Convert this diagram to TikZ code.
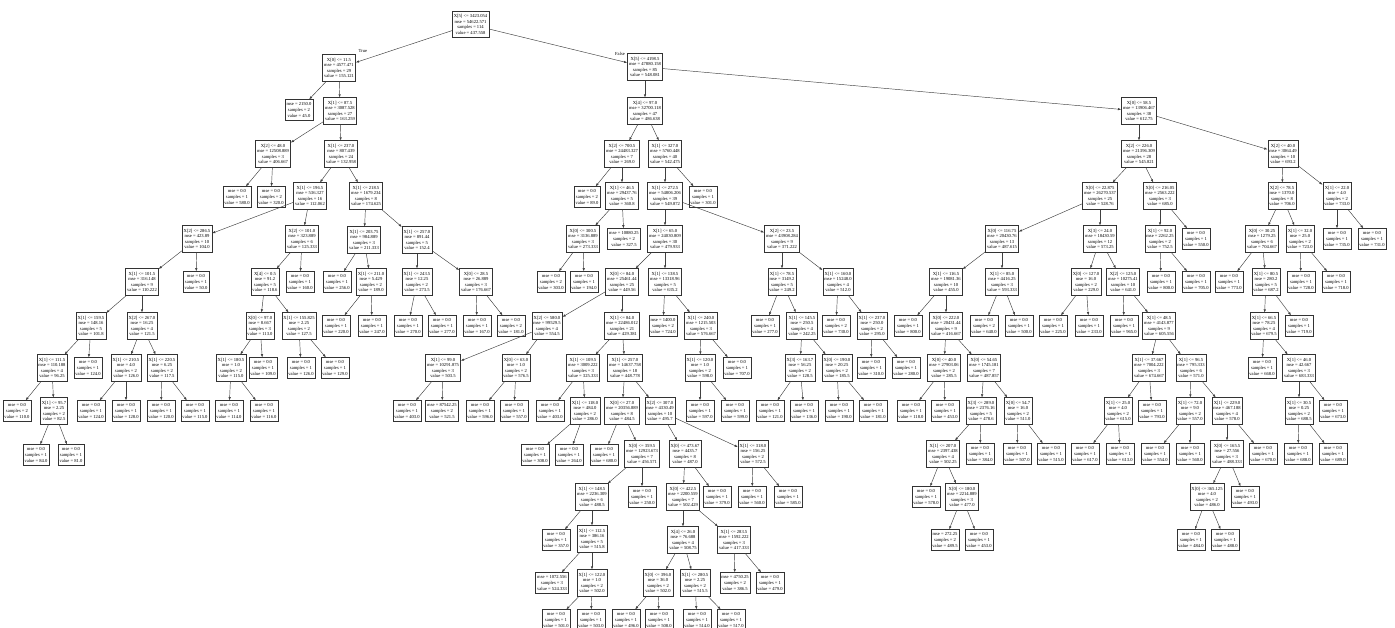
\documentclass[tikz,border=0pt]{standalone}
\usepackage{fontspec}
\setmainfont{Liberation Serif}
\usetikzlibrary{arrows.meta}
\tikzset{
  box/.style={draw=black!80, line width=0.55pt, fill=white, align=center, inner xsep=1.6pt, inner ysep=3.2pt, font=\fontsize{4.6}{5.6}\selectfont, text=black},
  edge/.style={draw=black!75, line width=0.45pt, -{Latex[length=3.2pt,width=2.4pt]}},
  lbl/.style={font=\fontsize{4.6}{5.6}\selectfont, inner sep=0pt},
}
\newcommand\IN[8]{\node[box] (#1) at (#3,#4) {#5\\mse = #6\\samples = #7\\value = #8};\draw[edge] (#2) -- (#1);}
\newcommand\LF[7]{\node[box] (#1) at (#3,#4) {mse = #5\\samples = #6\\value = #7};\draw[edge] (#2) -- (#1);}
\begin{document}
\begin{tikzpicture}[x=1pt,y=-1pt]
\useasboundingbox (0,0) rectangle (1395,628);
\clip (0,0) rectangle (1395,628);
\fill[white] (0,0) rectangle (1395,628);
\node[box] (r) at (470.5,24.5) {X[5] <= 3423.054\\mse = 54622.571\\samples = 114\\value = 437.558};
% left subtree
\IN{a}{r}{339}{68}{X[0] <= 11.5}{4577.471}{29}{155.121}
\LF{a1}{a}{299}{110}{2150.0}{2}{45.0}
\IN{a2}{a}{340}{111}{X[1] <= 87.5}{3087.528}{27}{163.259}
\IN{a21}{a2}{273}{154}{X[2] <= 48.0}{12508.889}{3}{406.667}
\LF{a211}{a21}{237}{197}{0.0}{1}{580.0}
\LF{a212}{a21}{271}{197}{0.0}{2}{320.0}
\IN{a22}{a2}{341}{154}{X[1] <= 237.0}{807.439}{24}{132.958}
\IN{e}{a22}{310}{196}{X[1] <= 196.5}{536.327}{16}{112.062}
\IN{f}{a22}{366}{196}{X[1] <= 218.5}{1679.234}{8}{174.625}
\IN{g}{e}{197}{239}{X[2] <= 286.5}{423.89}{10}{104.0}
\IN{h}{e}{302}{239}{X[2] <= 101.0}{323.889}{6}{125.333}
\IN{g1}{g}{142}{282}{X[1] <= 101.5}{316.148}{9}{110.222}
\LF{g2}{g}{196}{282}{0.0}{1}{50.0}
\IN{g11}{g1}{91}{326}{X[1] <= 159.5}{148.16}{5}{101.8}
\IN{g12}{g1}{142}{326}{X[2] <= 267.0}{16.25}{4}{121.5}
\IN{g111}{g11}{52}{368}{X[1] <= 111.5}{110.188}{4}{96.25}
\LF{g112}{g11}{88}{368}{0.0}{1}{124.0}
\LF{g1111}{g111}{17}{411}{0.0}{2}{110.0}
\IN{g1112}{g111}{54}{411}{X[1] <= 95.7}{2.25}{2}{82.5}
\LF{g11121}{g1112}{36}{455}{0.0}{1}{84.0}
\LF{g11122}{g1112}{71}{455}{0.0}{1}{81.0}
\IN{g121}{g12}{126}{368}{X[1] <= 210.5}{4.0}{2}{126.0}
\IN{g122}{g12}{162}{368}{X[1] <= 220.5}{6.25}{2}{117.5}
\LF{g1211}{g121}{91}{411}{0.0}{1}{124.0}
\LF{g1212}{g121}{126}{411}{0.0}{1}{128.0}
\LF{g1221}{g122}{161}{411}{0.0}{1}{120.0}
\LF{g1222}{g122}{195}{411}{0.0}{1}{115.0}
\IN{h1}{h}{265}{282}{X[4] <= 0.5}{91.2}{5}{118.6}
\LF{h2}{h}{300}{282}{0.0}{1}{160.0}
\IN{h11}{h1}{260}{326}{X[0] <= 97.0}{8.667}{3}{113.0}
\IN{h12}{h1}{299}{326}{X[1] <= 155.825}{2.25}{2}{127.5}
\IN{h111}{h11}{231}{368}{X[1] <= 180.5}{1.0}{2}{115.0}
\LF{h112}{h11}{263}{368}{0.0}{1}{109.0}
\LF{h1111}{h111}{229}{411}{0.0}{1}{114.0}
\LF{h1112}{h111}{264}{411}{0.0}{1}{116.0}
\LF{h121}{h12}{301}{368}{0.0}{1}{126.0}
\LF{h122}{h12}{335}{368}{0.0}{1}{129.0}
\IN{fi}{f}{364}{240}{X[1] <= 203.75}{984.889}{3}{211.333}
\IN{fj}{f}{417}{240}{X[1] <= 257.0}{891.44}{5}{152.4}
\LF{fi1}{fi}{337}{282}{0.0}{1}{256.0}
\IN{fi2}{fi}{371}{282}{X[1] <= 211.0}{5.429}{2}{189.0}
\LF{fi21}{fi2}{336}{326}{0.0}{1}{220.0}
\LF{fi22}{fi2}{372}{326}{0.0}{1}{247.0}
\IN{fk}{fj}{417}{282}{X[1] <= 243.5}{12.25}{2}{273.5}
\IN{fl}{fj}{476}{282}{X[0] <= 28.5}{26.889}{3}{176.667}
\LF{fk1}{fk}{408}{326}{0.0}{1}{270.0}
\LF{fk2}{fk}{442}{326}{0.0}{1}{277.0}
\LF{fl1}{fl}{477}{326}{0.0}{1}{167.0}
\LF{fl2}{fl}{511}{326}{0.0}{2}{181.0}
% right subtree
\IN{b}{r}{645}{67}{X[5] <= 4198.5}{47880.158}{85}{548.081}
\IN{m}{b}{645}{111}{X[4] <= 97.0}{32700.118}{47}{486.638}
\IN{m1}{m}{622}{154}{X[2] <= 700.5}{24483.327}{7}{269.0}
\LF{m11}{m1}{587}{197}{0.0}{2}{89.0}
\IN{m12}{m1}{622}{196}{X[1] <= 46.5}{29437.76}{5}{360.8}
\IN{m121}{m12}{583}{239}{X[0] <= 300.5}{3136.889}{3}{273.333}
\LF{m122}{m12}{624}{239}{10880.25}{2}{327.5}
\LF{m1211}{m121}{551}{282}{0.0}{2}{303.0}
\LF{m1212}{m121}{584}{282}{0.0}{1}{194.0}
\IN{m2}{m}{665}{154}{X[1] <= 327.0}{5760.448}{40}{542.475}
\IN{m21}{m2}{665}{196}{X[1] <= 272.5}{54806.206}{39}{549.872}
\LF{m22}{m2}{703}{197}{0.0}{1}{301.0}
\IN{m211}{m21}{665}{239}{X[1] <= 65.0}{24030.809}{30}{479.933}
\IN{m212}{m21}{782}{239}{X[2] <= 23.5}{43908.284}{9}{371.222}
\IN{p}{m211}{622}{282}{X[0] <= 84.0}{25461.44}{25}{449.56}
\IN{q}{m211}{665}{282}{X[1] <= 138.5}{13318.96}{5}{635.2}
\IN{p1}{p}{547}{326}{X[2] <= 580.0}{99529.5}{4}{554.5}
\IN{p2}{p}{622}{326}{X[1] <= 84.0}{22486.012}{21}{429.381}
\IN{p11}{p1}{443}{368}{X[1] <= 99.0}{10291.875}{3}{503.5}
\IN{p12}{p1}{516}{368}{X[0] <= 63.0}{1.0}{2}{576.5}
\LF{p111}{p11}{407}{411}{0.0}{1}{403.0}
\LF{p112}{p11}{442}{411}{87542.25}{2}{521.5}
\LF{p121}{p12}{480}{411}{0.0}{1}{596.0}
\LF{p122}{p12}{514}{411}{0.0}{1}{557.0}
\IN{p21}{p2}{583}{368}{X[1] <= 109.5}{3009.222}{3}{325.333}
\IN{p22}{p2}{625}{368}{X[1] <= 257.0}{14637.758}{18}{448.778}
\LF{p211}{p21}{550}{411}{0.0}{1}{403.0}
\IN{p212}{p21}{585}{411}{X[1] <= 118.0}{484.0}{2}{286.0}
\LF{p2121}{p212}{535}{455}{0.0}{1}{308.0}
\LF{p2122}{p212}{569}{455}{0.0}{1}{264.0}
\IN{p221}{p22}{622}{411}{X[0] <= 27.0}{20356.889}{8}{484.5}
\IN{p222}{p22}{660}{411}{X[2] <= 307.0}{4330.49}{10}{495.7}
\LF{p2211}{p221}{604}{455}{0.0}{1}{680.0}
\IN{p2212}{p221}{642}{454}{X[0] <= 359.5}{12923.673}{7}{456.571}
\IN{s1}{p2212}{592}{497}{X[1] <= 148.5}{2236.309}{6}{488.5}
\LF{s2}{p2212}{642}{497}{0.0}{1}{250.0}
\LF{s11}{s1}{556}{540}{0.0}{1}{357.0}
\IN{s12}{s1}{592}{539}{X[1] <= 112.5}{386.16}{5}{515.8}
\LF{s121}{s12}{552}{583}{1072.556}{3}{524.333}
\IN{s122}{s12}{592}{583}{X[1] <= 122.0}{1.0}{2}{502.0}
\LF{s1221}{s122}{556}{620}{0.0}{1}{501.0}
\LF{s1222}{s122}{591}{620}{0.0}{1}{503.0}
\IN{t1}{p222}{685}{454}{X[0] <= 473.67}{4435.7}{8}{487.0}
\IN{t2}{p222}{753}{454}{X[1] <= 318.0}{156.25}{2}{572.5}
\IN{t11}{t1}{683}{497}{X[0] <= 422.5}{2200.559}{7}{502.429}
\LF{t12}{t1}{717}{497}{0.0}{1}{379.0}
\IN{t111}{t11}{683}{540}{X[4] <= 26.0}{76.688}{4}{508.75}
\IN{t112}{t11}{734}{540}{X[1] <= 283.5}{1592.222}{3}{417.333}
\IN{t1111}{t111}{658}{583}{X[0] <= 396.0}{36.0}{2}{502.0}
\IN{t1112}{t111}{695}{583}{X[1] <= 280.5}{2.25}{2}{515.5}
\LF{t11111}{t1111}{626}{620}{0.0}{1}{496.0}
\LF{t11112}{t1111}{659}{620}{0.0}{1}{508.0}
\LF{t11121}{t1112}{697}{620}{0.0}{1}{514.0}
\LF{t11122}{t1112}{731}{620}{0.0}{1}{517.0}
\LF{t1121}{t112}{735}{583}{4750.25}{2}{386.5}
\LF{t1122}{t112}{770}{583}{0.0}{1}{479.0}
\LF{t21}{t2}{752}{497}{0.0}{1}{560.0}
\LF{t22}{t2}{788}{497}{0.0}{1}{585.0}
\LF{q1}{q}{663}{326}{1400.0}{2}{724.0}
\IN{q2}{q}{701}{326}{X[1] <= 240.0}{1215.503}{3}{576.667}
\IN{q21}{q2}{700}{368}{X[1] <= 120.0}{1.0}{2}{598.0}
\LF{q22}{q2}{737}{368}{0.0}{1}{707.0}
\LF{q211}{q21}{700}{411}{0.0}{1}{597.0}
\LF{q212}{q21}{735}{411}{0.0}{1}{599.0}
\IN{u1}{m212}{782}{282}{X[1] <= 78.5}{3149.2}{5}{249.2}
\IN{u2}{m212}{838}{282}{X[1] <= 160.0}{15248.0}{4}{512.0}
\LF{u11}{u1}{765}{326}{0.0}{1}{277.0}
\IN{u12}{u1}{802}{326}{X[1] <= 145.5}{250.5}{4}{242.25}
\IN{u121}{u12}{800}{368}{X[3] <= 163.7}{56.25}{2}{128.5}
\IN{u122}{u12}{837}{368}{X[0] <= 190.0}{20.25}{2}{185.5}
\LF{u1211}{u121}{770}{411}{0.0}{1}{121.0}
\LF{u1212}{u121}{804}{411}{0.0}{1}{136.0}
\LF{u1221}{u122}{839}{411}{0.0}{1}{190.0}
\LF{u1222}{u122}{873}{411}{0.0}{1}{181.0}
\LF{u21}{u2}{836}{326}{0.0}{2}{730.0}
\IN{u22}{u2}{872}{326}{X[1] <= 237.0}{250.0}{2}{295.0}
\LF{u221}{u22}{871}{368}{0.0}{1}{310.0}
\LF{u222}{u22}{906}{368}{0.0}{1}{280.0}
\IN{n}{b}{1139}{111}{X[0] <= 58.5}{13906.467}{38}{612.75}
\IN{n1}{n}{1139}{154}{X[2] <= 226.0}{21396.309}{28}{545.821}
\IN{n2}{n}{1283}{154}{X[2] <= 40.0}{3064.49}{10}{693.2}
\IN{n11}{n1}{1100}{196}{X[0] <= 22.875}{26270.537}{25}{528.76}
\IN{n12}{n1}{1160}{196}{X[0] <= 216.05}{2563.222}{3}{685.0}
\IN{v}{n11}{1002}{239}{X[0] <= 116.75}{20430.76}{13}{487.615}
\IN{w}{n11}{1100}{239}{X[3] <= 24.0}{18430.59}{12}{573.25}
\IN{v1}{v}{946}{282}{X[1] <= 116.5}{19081.36}{10}{455.0}
\IN{v2}{v}{1002}{282}{X[1] <= 85.0}{4416.25}{3}{593.333}
\LF{v11}{v1}{908}{326}{0.0}{1}{800.0}
\IN{v12}{v1}{946}{326}{X[0] <= 222.0}{20431.44}{9}{416.667}
\IN{v121}{v12}{944}{368}{X[0] <= 40.0}{27903.06}{2}{285.5}
\IN{v122}{v12}{984}{368}{X[0] <= 54.65}{1745.181}{7}{487.857}
\LF{v1211}{v121}{911}{411}{0.0}{1}{118.0}
\LF{v1212}{v121}{945}{411}{0.0}{1}{453.0}
\IN{v1221}{v122}{981}{411}{X[3] <= 289.0}{2376.16}{5}{478.6}
\IN{v1222}{v122}{1018}{411}{X[0] <= 54.7}{16.0}{2}{511.0}
\IN{v12211}{v1221}{943}{454}{X[1] <= 207.0}{2397.438}{4}{502.25}
\LF{v12212}{v1221}{980}{454}{0.0}{1}{384.0}
\LF{v122111}{v12211}{926}{497}{0.0}{1}{578.0}
\IN{v122112}{v12211}{962}{497}{X[0] <= 180.0}{2214.889}{3}{477.0}
\LF{v1221121}{v122112}{945}{540}{272.25}{2}{489.5}
\LF{v1221122}{v122112}{979}{540}{0.0}{1}{453.0}
\LF{v12221}{v1222}{1017}{454}{0.0}{1}{507.0}
\LF{v12222}{v1222}{1051}{454}{0.0}{1}{515.0}
\LF{v21}{v2}{984}{326}{0.0}{2}{640.0}
\LF{v22}{v2}{1019}{326}{0.0}{1}{500.0}
\IN{w1}{w}{1086}{282}{X[0] <= 127.0}{16.0}{2}{229.0}
\IN{w2}{w}{1123}{282}{X[2] <= 125.0}{10275.41}{10}{641.0}
\LF{w11}{w1}{1053}{326}{0.0}{1}{225.0}
\LF{w12}{w1}{1089}{326}{0.0}{1}{233.0}
\LF{w21}{w2}{1124}{326}{0.0}{1}{965.0}
\IN{w22}{w2}{1159}{326}{X[1] <= 48.5}{4143.877}{9}{605.556}
\IN{w221}{w22}{1149}{368}{X[1] <= 37.667}{7004.222}{3}{674.667}
\IN{w222}{w22}{1191}{368}{X[1] <= 96.5}{795.333}{6}{571.0}
\IN{w2211}{w221}{1118}{411}{X[1] <= 25.0}{4.0}{2}{615.0}
\LF{w2212}{w221}{1152}{411}{0.0}{1}{793.0}
\LF{w22111}{w2211}{1085}{454}{0.0}{1}{617.0}
\LF{w22112}{w2211}{1120}{454}{0.0}{1}{613.0}
\IN{w2221}{w222}{1190}{411}{X[1] <= 72.0}{9.0}{2}{557.0}
\IN{w2222}{w222}{1227}{411}{X[1] <= 229.0}{467.188}{4}{578.0}
\LF{w22211}{w2221}{1155}{454}{0.0}{1}{554.0}
\LF{w22212}{w2221}{1190}{454}{0.0}{1}{560.0}
\IN{x1}{w2222}{1227}{454}{X[0] <= 165.5}{27.556}{3}{488.333}
\LF{x2}{w2222}{1263}{454}{0.0}{1}{670.0}
\IN{x11}{x1}{1207}{497}{X[0] <= 365.125}{4.0}{2}{486.0}
\LF{x12}{x1}{1245}{497}{0.0}{1}{493.0}
\LF{x111}{x11}{1191}{540}{0.0}{1}{484.0}
\LF{x112}{x11}{1225}{540}{0.0}{1}{488.0}
\IN{y1}{n12}{1160}{239}{X[1] <= 92.0}{2262.25}{2}{752.5}
\LF{y2}{n12}{1196}{239}{0.0}{1}{550.0}
\LF{y11}{y1}{1161}{282}{0.0}{1}{800.0}
\LF{y12}{y1}{1196}{282}{0.0}{1}{705.0}
\IN{z1}{n2}{1282}{196}{X[2] <= 78.5}{1370.0}{8}{706.0}
\IN{z2}{n2}{1337}{196}{X[1] <= 22.0}{4.0}{2}{733.0}
\IN{z11}{z1}{1262}{239}{X[0] <= 30.25}{1279.25}{6}{704.667}
\IN{z12}{z1}{1300}{239}{X[1] <= 32.0}{25.0}{2}{723.0}
\LF{z111}{z11}{1229}{282}{0.0}{1}{773.0}
\IN{z112}{z11}{1266}{282}{X[1] <= 80.5}{280.2}{5}{687.2}
\IN{z1121}{z112}{1264}{326}{X[1] <= 66.5}{78.25}{4}{679.5}
\LF{z1122}{z112}{1299}{326}{0.0}{1}{719.0}
\LF{z11211}{z1121}{1262}{368}{0.0}{1}{668.0}
\IN{z11212}{z1121}{1299}{368}{X[1] <= 46.0}{42.667}{3}{683.333}
\IN{z112121}{z11212}{1299}{411}{X[1] <= 30.5}{0.25}{2}{688.5}
\LF{z112122}{z11212}{1333}{411}{0.0}{1}{673.0}
\LF{z1121211}{z112121}{1298}{454}{0.0}{1}{688.0}
\LF{z1121212}{z112121}{1333}{454}{0.0}{1}{689.0}
\LF{z121}{z12}{1301}{282}{0.0}{1}{728.0}
\LF{z122}{z12}{1336}{282}{0.0}{1}{718.0}
\LF{z21}{z2}{1337}{239}{0.0}{1}{735.0}
\LF{z22}{z2}{1372}{239}{0.0}{1}{731.0}
\node[lbl] (lblT) at (363,51) {True};
\node[lbl] (lblF) at (620,54) {False};
\end{tikzpicture}
\end{document}
